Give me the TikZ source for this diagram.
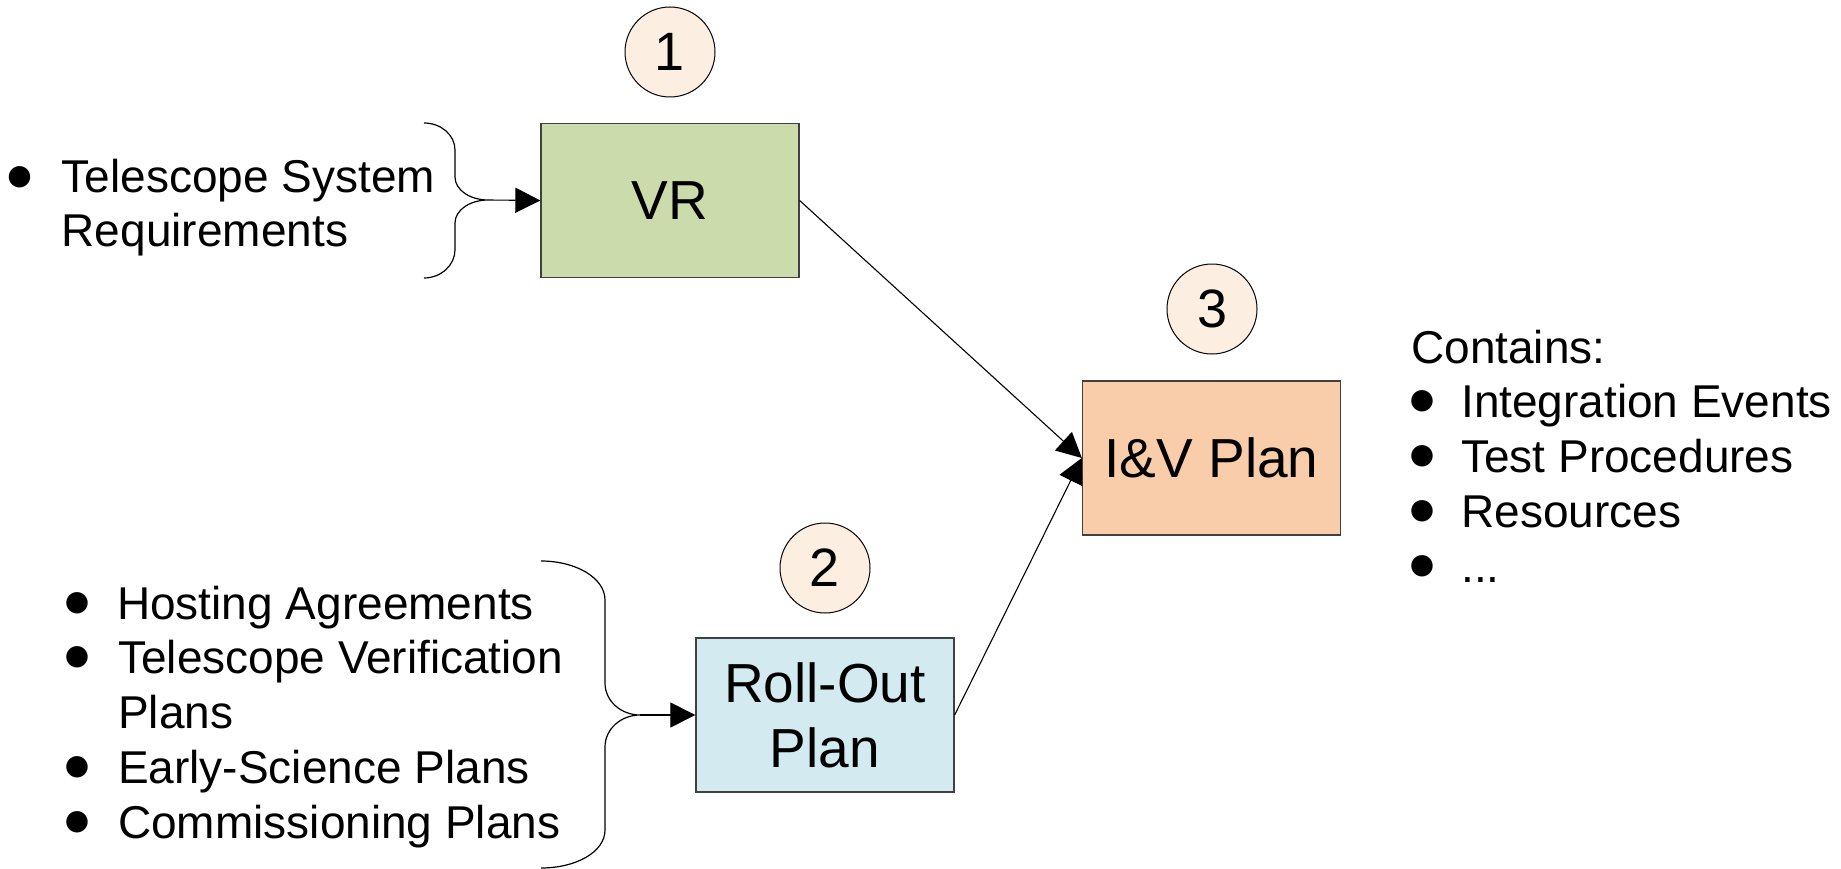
\documentclass[tikz,border=0pt]{standalone}
\usepackage{fontspec}
\setmainfont{Liberation Sans}
\newfontfamily\dotfont{DejaVu Sans}
\usetikzlibrary{arrows.meta}
\definecolor{vrgreen}{RGB}{203,219,171}
\definecolor{ivorange}{RGB}{250,205,170}
\definecolor{roblue}{RGB}{210,234,240}
\definecolor{badgefill}{RGB}{253,238,226}
\definecolor{boxline}{RGB}{64,64,64}
\begin{document}
\begin{tikzpicture}[x=1pt,y=-1pt,
  box/.style={draw=boxline, line width=1.3pt, minimum width=258pt, minimum height=154pt,
    inner sep=0pt, font=\fontsize{55}{65}\selectfont, align=center},
  badge/.style={circle, draw=black, line width=1pt, fill=badgefill, minimum size=90pt,
    inner sep=0pt, font=\fontsize{54}{54}\selectfont},
  item/.style={anchor=base west, inner sep=0pt, font=\fontsize{46}{54}\selectfont},
  dot/.style={anchor=base, inner sep=0pt, font=\dotfont\fontsize{28}{28}\selectfont},
  link/.style={line width=1.1pt, -{Triangle[length=25pt,width=25pt]}},
  brace/.style={line width=1.2pt},
]
\useasboundingbox (0,0) rectangle (1841,869);

% process boxes
\node[box, fill=vrgreen]  (vr) at (670,200.5) {VR};
\node[box, fill=ivorange] (iv) at (1211.5,458) {I\&V Plan};
\node[box, fill=roblue]   (ro) at (825,715)   {Roll-Out\\Plan};

% step numbers
\node[badge] (b1) at (670,52)   {1};
\node[badge] (b2) at (825,568)  {2};
\node[badge] (b3) at (1212,309) {3};

% flows into the I&V plan
\draw[link] (vr.east) -- (iv.west);
\draw[link] (ro.east) -- (iv.west);

% input brace for the VR
\coordinate (t1) at (488,200);
\draw[brace] (424,123) .. controls (441,123) and (455,135) .. (455,150)
  -- (455,177) .. controls (455,190) and (470,200) .. (t1)
  .. controls (470,200) and (455,210) .. (455,223)
  -- (455,250) .. controls (455,265) and (441,278) .. (424,278);
\draw[link] (t1) -- (vr.west);

% input brace for the roll-out plan
\coordinate (t2) at (640,715);
\draw[brace] (541,561) .. controls (576,561) and (605,578) .. (605,600)
  -- (605,683) .. controls (605,701) and (621,715) .. (t2)
  .. controls (621,715) and (605,729) .. (605,747)
  -- (605,830) .. controls (605,852) and (576,868) .. (541,868);
\draw[link] (t2) -- (ro.west);

% VR inputs
\node[dot]  (d1) at (19.5,184.5) {●};
\node[item] (l1) at (61.5,193)  {Telescope System};
\node[item] (l2) at (61.5,246)  {Requirements};

% roll-out inputs
\node[dot]  (d2) at (77,610.5) {●};
\node[item] (r1) at (117,619) {Hosting Agreements};
\node[dot]  (d3) at (77,664.5) {●};
\node[item] (r2) at (118,673) {Telescope Verification};
\node[item] (r3) at (118,728) {Plans};
\node[dot]  (d4) at (77,774.5) {●};
\node[item] (r4) at (118,783) {Early-Science Plans};
\node[dot]  (d5) at (77,829.5) {●};
\node[item] (r5) at (118,838) {Commissioning Plans};

% plan contents
\node[item] (c0) at (1411,363) {Contains:};
\node[dot]  (d6) at (1422,408.5) {●};
\node[item] (c1) at (1461,417) {Integration Events};
\node[dot]  (d7) at (1422,463.5) {●};
\node[item] (c2) at (1461,472) {Test Procedures};
\node[dot]  (d8) at (1422,518.5) {●};
\node[item] (c3) at (1461,527) {Resources};
\node[dot]  (d9) at (1422,573.5) {●};
\node[item] (c4) at (1461,582) {...};
\end{tikzpicture}
\end{document}
